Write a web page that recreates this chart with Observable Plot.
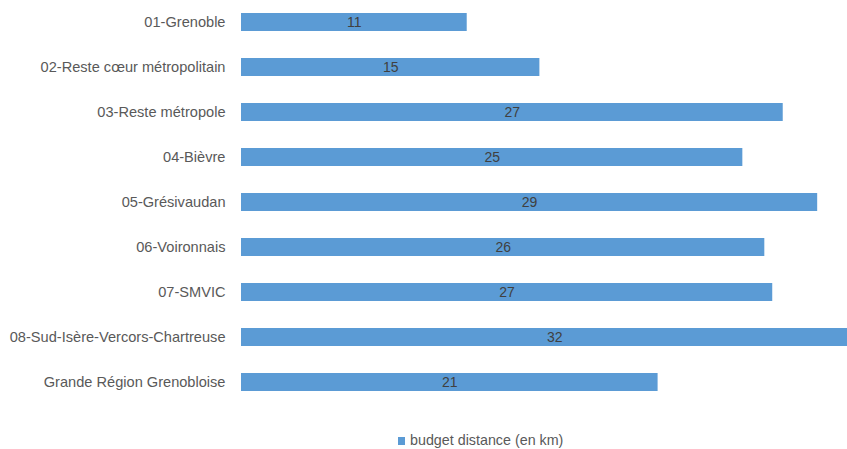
<!DOCTYPE html>
<html>
<head>
<meta charset="utf-8">
<script src="https://cdn.jsdelivr.net/npm/d3@7"></script>
<script src="https://cdn.jsdelivr.net/npm/@observablehq/plot@0.6"></script>
<style>
  html, body { margin: 0; padding: 0; background: #fff; overflow: hidden; }
  #wrap { width: 847px; height: 449px; position: relative; }
  #legend { position: absolute; left: 0; top: 431px; width: 847px; height: 18px;
    font-family: "Liberation Sans", Arial, sans-serif; font-size: 14.3px; color: #595959; }
</style>
</head>
<body>
<div id="wrap"><div id="chart"></div><div id="legend"></div></div>
<script>
const categories = ["01-Grenoble", "02-Reste cœur métropolitain", "03-Reste métropole", "04-Bièvre", "05-Grésivaudan", "06-Voironnais", "07-SMVIC", "08-Sud-Isère-Vercors-Chartreuse", "Grande Région Grenobloise"];
const values = [11.4, 15.07, 27.36, 25.32, 29.1, 26.43, 26.83, 31.65, 21.04];
const seriesName = "budget distance (en km)";

const data = categories.map((c, i) => ({category: c, value: values[i]}));

const chart = Plot.plot({
  width: 847,
  height: 428,
  marginLeft: 241,
  marginRight: 0,
  marginTop: 0,
  marginBottom: 0,
  style: {fontFamily: "'Liberation Sans', Arial, sans-serif", fontSize: "14.6px", color: "#595959", background: "#fff"},
  x: {domain: [0, 606 / 19.8], range: [241, 847], axis: null},
  y: {domain: categories, range: [11.8, 392.8], paddingInner: 0.603, paddingOuter: 0, axis: "left", tickSize: 0, tickPadding: 16, label: null},
  marks: [
    Plot.barX(data, {x: "value", y: "category", fill: "#5b9bd5", clip: true}),
    Plot.text(data, {x: d => d.value / 2, y: "category", text: d => String(Math.round(d.value)), fill: "#404040", fontSize: 14})
  ]
});
document.getElementById("chart").appendChild(chart);

const lg = document.getElementById("legend");
lg.innerHTML = `<span style="position:absolute;left:398px;top:6px;width:7px;height:8px;background:#5b9bd5"></span><span style="position:absolute;left:410px;top:0px;line-height:18px">${seriesName}</span>`;
</script>
</body>
</html>
